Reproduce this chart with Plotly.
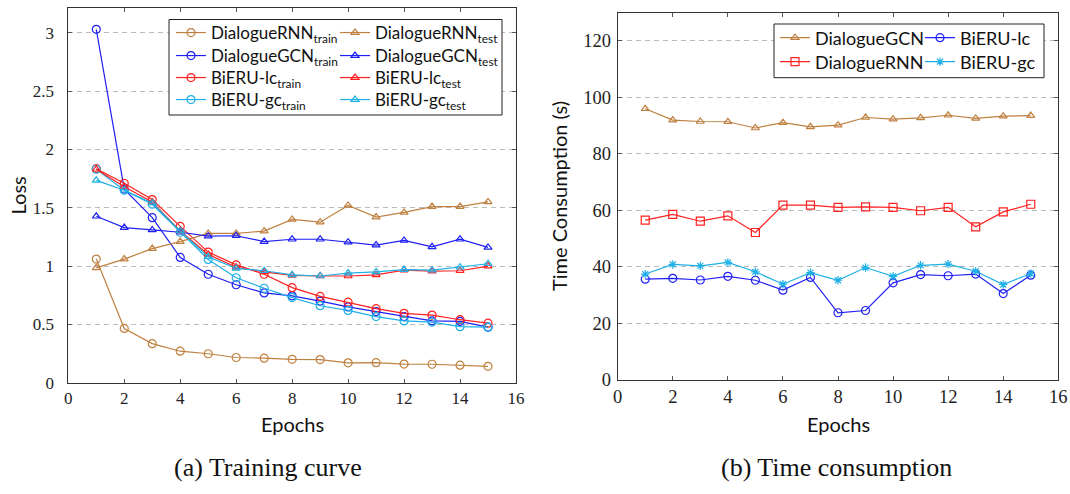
import plotly.graph_objects as go

# ---------------- data ----------------
epochs = list(range(1, 16))

# (a) training curve: loss
rnn_train = [1.06, 0.465, 0.335, 0.27, 0.248, 0.216, 0.21, 0.20, 0.198, 0.17, 0.172, 0.16, 0.158, 0.15, 0.14]
rnn_test = [0.985, 1.06, 1.15, 1.21, 1.28, 1.28, 1.30, 1.40, 1.376, 1.52, 1.42, 1.46, 1.51, 1.51, 1.55]
gcn_train = [3.03, 1.66, 1.415, 1.074, 0.93, 0.84, 0.77, 0.745, 0.70, 0.65, 0.61, 0.567, 0.53, 0.525, 0.476]
gcn_test = [1.427, 1.33, 1.31, 1.29, 1.256, 1.26, 1.21, 1.23, 1.23, 1.205, 1.18, 1.22, 1.165, 1.23, 1.16]
lc_train = [1.835, 1.71, 1.57, 1.34, 1.12, 1.01, 0.93, 0.815, 0.74, 0.69, 0.635, 0.595, 0.58, 0.54, 0.51]
lc_test = [1.83, 1.68, 1.55, 1.30, 1.10, 0.99, 0.95, 0.92, 0.915, 0.915, 0.925, 0.965, 0.957, 0.96, 1.00]
gc_train = [1.83, 1.65, 1.53, 1.29, 1.057, 0.90, 0.81, 0.73, 0.66, 0.62, 0.567, 0.53, 0.52, 0.48, 0.476]
gc_test = [1.735, 1.65, 1.54, 1.30, 1.08, 0.98, 0.96, 0.925, 0.915, 0.94, 0.95, 0.97, 0.965, 0.99, 1.02]

# (b) time consumption (s)
time_gcn = [96.0, 92.0, 91.5, 91.4, 89.2, 91.1, 89.6, 90.2, 92.9, 92.3, 92.8, 93.7, 92.6, 93.4, 93.6]
time_rnn = [56.6, 58.6, 56.2, 58.1, 52.2, 61.9, 61.9, 61.1, 61.3, 61.1, 59.9, 61.1, 54.2, 59.5, 62.2]
time_lc = [35.7, 36.0, 35.4, 36.7, 35.3, 31.8, 36.3, 23.8, 24.6, 34.4, 37.3, 36.9, 37.5, 30.6, 37.1]
time_gc = [37.5, 40.9, 40.4, 41.6, 38.3, 33.9, 38.0, 35.3, 39.8, 36.7, 40.6, 41.0, 38.5, 33.8, 37.7]

x_ticks = [0, 2, 4, 6, 8, 10, 12, 14, 16]
loss_ticks = [0, 0.5, 1, 1.5, 2, 2.5, 3]
loss_tick_text = ["0", "0.5", "1", "1.5", "2", "2.5", "3"]
time_ticks = [0, 20, 40, 60, 80, 100, 120]

# ---------------- styles ----------------
BROWN = "#BF8040"
BLUE = "#2020F5"
RED = "#FF2020"
CYAN = "#1EB0E6"
SANS = "Lato"
SERIF = "Liberation Serif"
W, H = 1070, 494


def px_x(p):
    return p / W


def px_y(p):
    return 1 - p / H


fig = go.Figure()

legend_defs = {}


def add(x, y, name, color, symbol, xa, ya, legend, lx, ly, fsize, size=8):
    fig.add_trace(go.Scatter(
        x=x, y=y, name=name, mode="lines+markers",
        line=dict(color=color, width=1.2),
        marker=dict(symbol=symbol, size=size, color=color, line=dict(color=color, width=1.2)),
        xaxis=xa, yaxis=ya, legend=legend,
    ))
    legend_defs[legend] = dict(
        x=px_x(lx), y=px_y(ly), xanchor="left", yanchor="middle",
        bgcolor="rgba(0,0,0,0)", borderwidth=0, orientation="v",
        font=dict(family=SANS, size=fsize, color="#111111"),
        itemwidth=30, tracegroupgap=0,
    )


# left chart (legend rows at y 33, 56, 78, 100)
L1, L2 = 171, 335
rows_l = [33, 56, 78, 100]
add(epochs, rnn_train, "DialogueRNN<sub>train</sub>", BROWN, "circle-open", "x", "y", "legend", L1, rows_l[0], 17)
add(epochs, gcn_train, "DialogueGCN<sub>train</sub>", BLUE, "circle-open", "x", "y", "legend2", L1, rows_l[1], 17)
add(epochs, lc_train, "BiERU-lc<sub>train</sub>", RED, "circle-open", "x", "y", "legend3", L1, rows_l[2], 17)
add(epochs, gc_train, "BiERU-gc<sub>train</sub>", CYAN, "circle-open", "x", "y", "legend4", L1, rows_l[3], 17)
add(epochs, rnn_test, "DialogueRNN<sub>test</sub>", BROWN, "triangle-up-open", "x", "y", "legend5", L2, rows_l[0], 17, 7)
add(epochs, gcn_test, "DialogueGCN<sub>test</sub>", BLUE, "triangle-up-open", "x", "y", "legend6", L2, rows_l[1], 17, 7)
add(epochs, lc_test, "BiERU-lc<sub>test</sub>", RED, "triangle-up-open", "x", "y", "legend7", L2, rows_l[2], 17, 7)
add(epochs, gc_test, "BiERU-gc<sub>test</sub>", CYAN, "triangle-up-open", "x", "y", "legend8", L2, rows_l[3], 17, 7)

# right chart (legend rows at y 38, 62)
R1, R2 = 775, 920
add(epochs, time_gcn, "DialogueGCN", BROWN, "triangle-up-open", "x2", "y2", "legend9", R1, 38, 18, 7)
add(epochs, time_rnn, "DialogueRNN", RED, "square-open", "x2", "y2", "legend10", R1, 62, 18, 8)
add(epochs, time_lc, "BiERU-lc", BLUE, "circle-open", "x2", "y2", "legend11", R2, 38, 18, 8)
add(epochs, time_gc, "BiERU-gc", CYAN, "asterisk-open", "x2", "y2", "legend12", R2, 62, 18, 7)


def axis_common(fs):
    return dict(
        showline=True, linecolor="#333333", linewidth=1, mirror="ticks",
        ticks="inside", ticklen=4, tickcolor="#555555", tickwidth=1,
        tickfont=dict(family=SERIF, size=fs, color="#222222"),
        zeroline=False, automargin=False,
    )


fig.update_layout(
    width=W, height=H,
    margin=dict(l=0, r=0, t=0, b=0, autoexpand=False),
    paper_bgcolor="white", plot_bgcolor="white",
    showlegend=True,
    xaxis=dict(domain=[px_x(68.3), px_x(516)], range=[0, 16], tickvals=x_ticks,
               showgrid=False, anchor="y", ticklabelstandoff=0, **axis_common(17)),
    yaxis=dict(domain=[px_y(382.7), px_y(8.3)], range=[0, 3.21], tickvals=loss_ticks,
               ticktext=loss_tick_text, showgrid=True, gridcolor="#BBBBBB", griddash="5px,4px",
               gridwidth=1, anchor="x", ticklabelstandoff=10, **axis_common(17)),
    xaxis2=dict(domain=[px_x(617.7), px_x(1058.3)], range=[0, 16], tickvals=x_ticks,
                showgrid=False, anchor="y2", ticklabelstandoff=0, **axis_common(18.5)),
    yaxis2=dict(domain=[px_y(380), px_y(12.7)], range=[0, 130], tickvals=time_ticks,
                showgrid=True, gridcolor="#BBBBBB", griddash="5px,4px",
                gridwidth=1, anchor="x2", ticklabelstandoff=2, **axis_common(18.5)),
)

fig.update_layout(**legend_defs)

# legend frames
fig.add_shape(type="rect", xref="paper", yref="paper",
              x0=px_x(169), x1=px_x(502), y0=px_y(115), y1=px_y(19.5),
              line=dict(color="#222222", width=1), fillcolor="white", layer="above")
fig.add_shape(type="rect", xref="paper", yref="paper",
              x0=px_x(774), x1=px_x(1044), y0=px_y(77.7), y1=px_y(24),
              line=dict(color="#222222", width=1), fillcolor="white", layer="above")

# axis titles and captions
ann = [
    dict(text="Loss", x=px_x(17), y=px_y(195.5), textangle=-90, font=dict(family=SANS, size=20)),
    dict(text="Epochs", x=px_x(292), y=px_y(424), font=dict(family=SANS, size=20)),
    dict(text="Time Consumption (s)", x=px_x(559), y=px_y(196), textangle=-90, font=dict(family=SANS, size=20)),
    dict(text="Epochs", x=px_x(838), y=px_y(424), font=dict(family=SANS, size=20)),
    dict(text="(a) Training curve", x=px_x(268), y=px_y(467), font=dict(family=SERIF, size=26)),
    dict(text="(b) Time consumption", x=px_x(836), y=px_y(467), font=dict(family=SERIF, size=26)),
]
for a in ann:
    a["font"]["color"] = "#111111"
    fig.add_annotation(xref="paper", yref="paper", showarrow=False,
                       xanchor="center", yanchor="middle", **a)

fig.write_html("out.html", config={"displayModeBar": False},
               post_script="document.body.style.margin='0px';document.body.style.overflow='hidden';")
